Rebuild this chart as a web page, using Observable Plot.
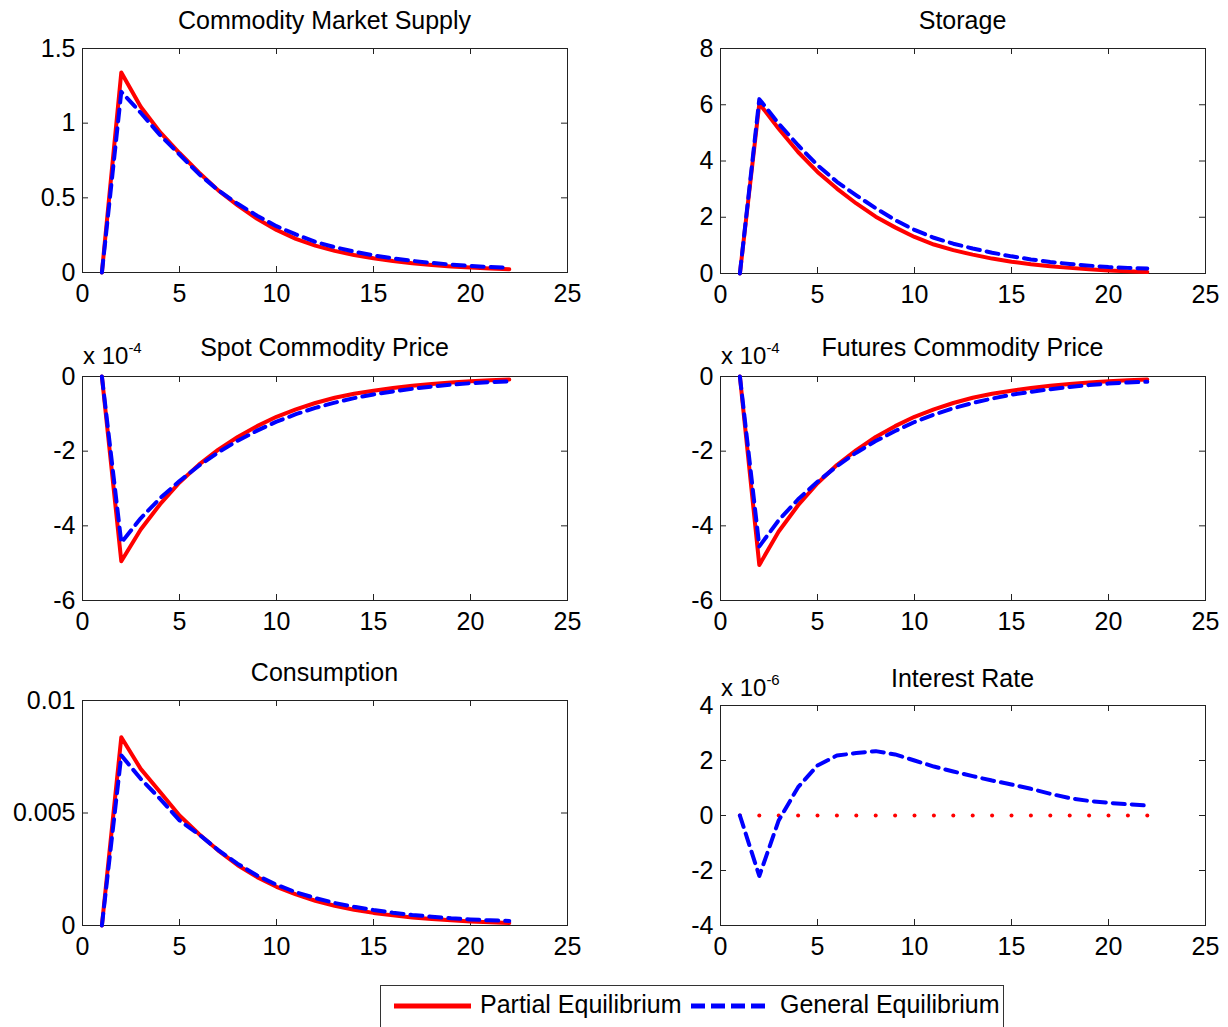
<!DOCTYPE html>
<html><head><meta charset="utf-8">
<script src="https://cdn.jsdelivr.net/npm/d3@7"></script>
<script src="https://cdn.jsdelivr.net/npm/@observablehq/plot@0.6"></script>
<style>
html,body{margin:0;padding:0;background:#fff;overflow:hidden}
#page{position:relative;width:1228px;height:1027px;font-family:"Liberation Sans",Arial,sans-serif;color:#000;overflow:hidden}
.panel{position:absolute}
.title{position:absolute;font-size:25px;white-space:nowrap;transform:translate(-50%,-50%);line-height:1}
.exp{position:absolute;font-size:24px;white-space:nowrap;transform:translateY(-50%);line-height:1}
.exp sup{font-size:15px;position:relative;top:-4px;vertical-align:top}
.legend{position:absolute;left:380px;top:985px;width:624px;height:70px;border:1.5px solid #333;box-sizing:border-box;background:#fff}
.legend span{position:absolute;font-size:25px;top:6px;white-space:nowrap;line-height:1}
</style>
</head><body><div id="page"></div>
<script>
// ---- data ----
const periods = [1,2,3,4,5,6,7,8,9,10,11,12,13,14,15,16,17,18,19,20,21,22];
const xTicks = [0,5,10,15,20,25];

const supplyPE = [0,1.34,1.11,0.94,0.80,0.67,0.55,0.45,0.36,0.285,0.225,0.18,0.145,0.117,0.095,0.077,0.062,0.05,0.04,0.033,0.027,0.022];
const supplyGE = [0,1.21,1.07,0.92,0.79,0.66,0.55,0.46,0.38,0.31,0.255,0.205,0.17,0.14,0.115,0.095,0.078,0.064,0.053,0.044,0.037,0.032];

const storagePE = [0,6.04,5.15,4.32,3.61,3.02,2.49,2.02,1.64,1.3,1.03,0.83,0.67,0.53,0.42,0.33,0.26,0.2,0.15,0.11,0.08,0.05];
const storageGE = [0,6.2,5.33,4.56,3.85,3.26,2.78,2.32,1.9,1.55,1.27,1.06,0.89,0.74,0.61,0.5,0.41,0.34,0.28,0.23,0.2,0.18];

// x 10^-4
const spotPE = [0,-4.95,-4.1,-3.42,-2.84,-2.36,-1.96,-1.62,-1.33,-1.08,-0.88,-0.71,-0.57,-0.46,-0.38,-0.31,-0.25,-0.2,-0.16,-0.13,-0.1,-0.08];
const spotGE = [0,-4.45,-3.8,-3.26,-2.8,-2.39,-2.03,-1.72,-1.45,-1.21,-1.01,-0.84,-0.7,-0.58,-0.48,-0.4,-0.33,-0.27,-0.22,-0.18,-0.15,-0.13];

// x 10^-4
const futuresPE = [0,-5.05,-4.15,-3.45,-2.86,-2.37,-1.97,-1.62,-1.33,-1.08,-0.88,-0.71,-0.57,-0.46,-0.38,-0.31,-0.25,-0.2,-0.16,-0.13,-0.1,-0.08];
const futuresGE = [0,-4.55,-3.85,-3.29,-2.82,-2.4,-2.04,-1.73,-1.46,-1.22,-1.02,-0.85,-0.71,-0.59,-0.49,-0.41,-0.34,-0.28,-0.23,-0.19,-0.16,-0.14];

const consPE = [0,0.00837,0.00696,0.00593,0.00489,0.00407,0.00333,0.00268,0.00215,0.00172,0.00138,0.0011,0.00088,0.0007,0.00056,0.00045,0.00036,0.00029,0.00023,0.00018,0.00014,0.00011];
const consGE = [0,0.00756,0.00652,0.00563,0.00467,0.00405,0.00335,0.00274,0.00222,0.00181,0.00148,0.00122,0.001,0.00083,0.00069,0.00057,0.00047,0.00039,0.00032,0.00027,0.00023,0.0002];

// x 10^-6
const ratePE = [0,0,0,0,0,0,0,0,0,0,0,0,0,0,0,0,0,0,0,0,0,0];
const rateGE = [0,-2.2,-0.18,1.03,1.82,2.18,2.27,2.34,2.22,2.0,1.78,1.6,1.43,1.27,1.13,0.97,0.79,0.63,0.53,0.46,0.41,0.36];

const titles = ["Commodity Market Supply","Storage","Spot Commodity Price","Futures Commodity Price","Consumption","Interest Rate"];
const yTicksSupply = [0,0.5,1,1.5];
const yTicksStorage = [0,2,4,6,8];
const yTicksPrice = [-6,-4,-2,0];
const yTicksCons = [0,0.005,0.01];
const yTicksRate = [-4,-2,0,2,4];
const legendLabels = ["Partial Equilibrium","General Equilibrium"];

// ---- layout ----
const page = document.getElementById("page");
const ML = 90, MR = 30, MT = 20, MB = 45;
const RED = "#ff0000", BLUE = "#0000ff";

function rows(vals){ return periods.map((t,i)=>({t, v: vals[i]})); }

function panel({left, top, w, h, domain, ticks, pe, ge, peDots, title, titleY, exp, expY}){
  const fmt = d => String(d);
  const marks = [
    Plot.frame({stroke:"#222", strokeWidth:1}),
    Plot.tickX(xTicks, {x: d=>d, insetTop: h-6, stroke:"#222"}),
    Plot.tickX(xTicks, {x: d=>d, insetBottom: h-6, stroke:"#222"}),
    Plot.tickY(ticks, {y: d=>d, insetRight: w-6, stroke:"#222"}),
    Plot.tickY(ticks, {y: d=>d, insetLeft: w-6, stroke:"#222"}),
    Plot.axisX({ticks: xTicks, tickSize:0, tickPadding:12, tickFormat: fmt, label: null}),
    Plot.axisY({ticks: ticks, tickSize:0, tickPadding:7, tickFormat: fmt, label: null}),
  ];
  if (peDots) marks.push(Plot.dot(rows(pe), {x:"t", y:"v", r:2, fill:RED, stroke:null}));
  else marks.push(Plot.line(rows(pe), {x:"t", y:"v", stroke:RED, strokeWidth:4}));
  marks.push(Plot.line(rows(ge), {x:"t", y:"v", stroke:BLUE, strokeWidth:4, strokeDasharray:"12,7"}));
  const svg = Plot.plot({
    width: w+ML+MR, height: h+MT+MB,
    marginLeft: ML, marginRight: MR, marginTop: MT, marginBottom: MB,
    x: {domain:[0,25], label: null},
    y: {domain: domain, label: null},
    style: {fontFamily:'"Liberation Sans",Arial,sans-serif', fontSize:"25px", color:"#000", background:"transparent", overflow:"visible"},
    marks
  });
  svg.classList.add("panel");
  svg.style.left = (left-ML)+"px";
  svg.style.top = (top-MT)+"px";
  page.appendChild(svg);
  const t = document.createElement("div");
  t.className = "title"; t.textContent = title;
  t.style.left = (left + w/2) + "px"; t.style.top = titleY + "px";
  page.appendChild(t);
  if (exp) {
    const e = document.createElement("div");
    e.className = "exp";
    e.innerHTML = "x 10<sup>" + exp + "</sup>";
    e.style.left = (left+1) + "px"; e.style.top = expY + "px";
    page.appendChild(e);
  }
}

const LX = 82, RX = 720, W = 485;
panel({left:LX, top:48, w:W, h:224, domain:[0,1.5], ticks:yTicksSupply, pe:supplyPE, ge:supplyGE, title:titles[0], titleY:20});
panel({left:RX, top:48, w:W, h:225, domain:[0,8], ticks:yTicksStorage, pe:storagePE, ge:storageGE, title:titles[1], titleY:20});
panel({left:LX, top:376, w:W, h:224, domain:[-6,0], ticks:yTicksPrice, pe:spotPE, ge:spotGE, title:titles[2], titleY:347, exp:"-4", expY:356});
panel({left:RX, top:376, w:W, h:224, domain:[-6,0], ticks:yTicksPrice, pe:futuresPE, ge:futuresGE, title:titles[3], titleY:347, exp:"-4", expY:356});
panel({left:LX, top:700, w:W, h:225, domain:[0,0.01], ticks:yTicksCons, pe:consPE, ge:consGE, title:titles[4], titleY:672});
panel({left:RX, top:705, w:W, h:220, domain:[-4,4], ticks:yTicksRate, pe:ratePE, ge:rateGE, peDots:true, title:titles[5], titleY:678, exp:"-6", expY:688});

// legend
const lg = document.createElement("div");
lg.className = "legend";
lg.innerHTML = `<svg width="624" height="40" style="position:absolute;left:0;top:0">
  <line x1="13" x2="90" y1="20" y2="20" stroke="${RED}" stroke-width="5"/>
  <line x1="310" x2="390" y1="20" y2="20" stroke="${BLUE}" stroke-width="5" stroke-dasharray="14,6"/>
</svg>
<span style="left:99px">${legendLabels[0]}</span>
<span style="left:399px">${legendLabels[1]}</span>`;
page.appendChild(lg);
</script>
</body></html>
